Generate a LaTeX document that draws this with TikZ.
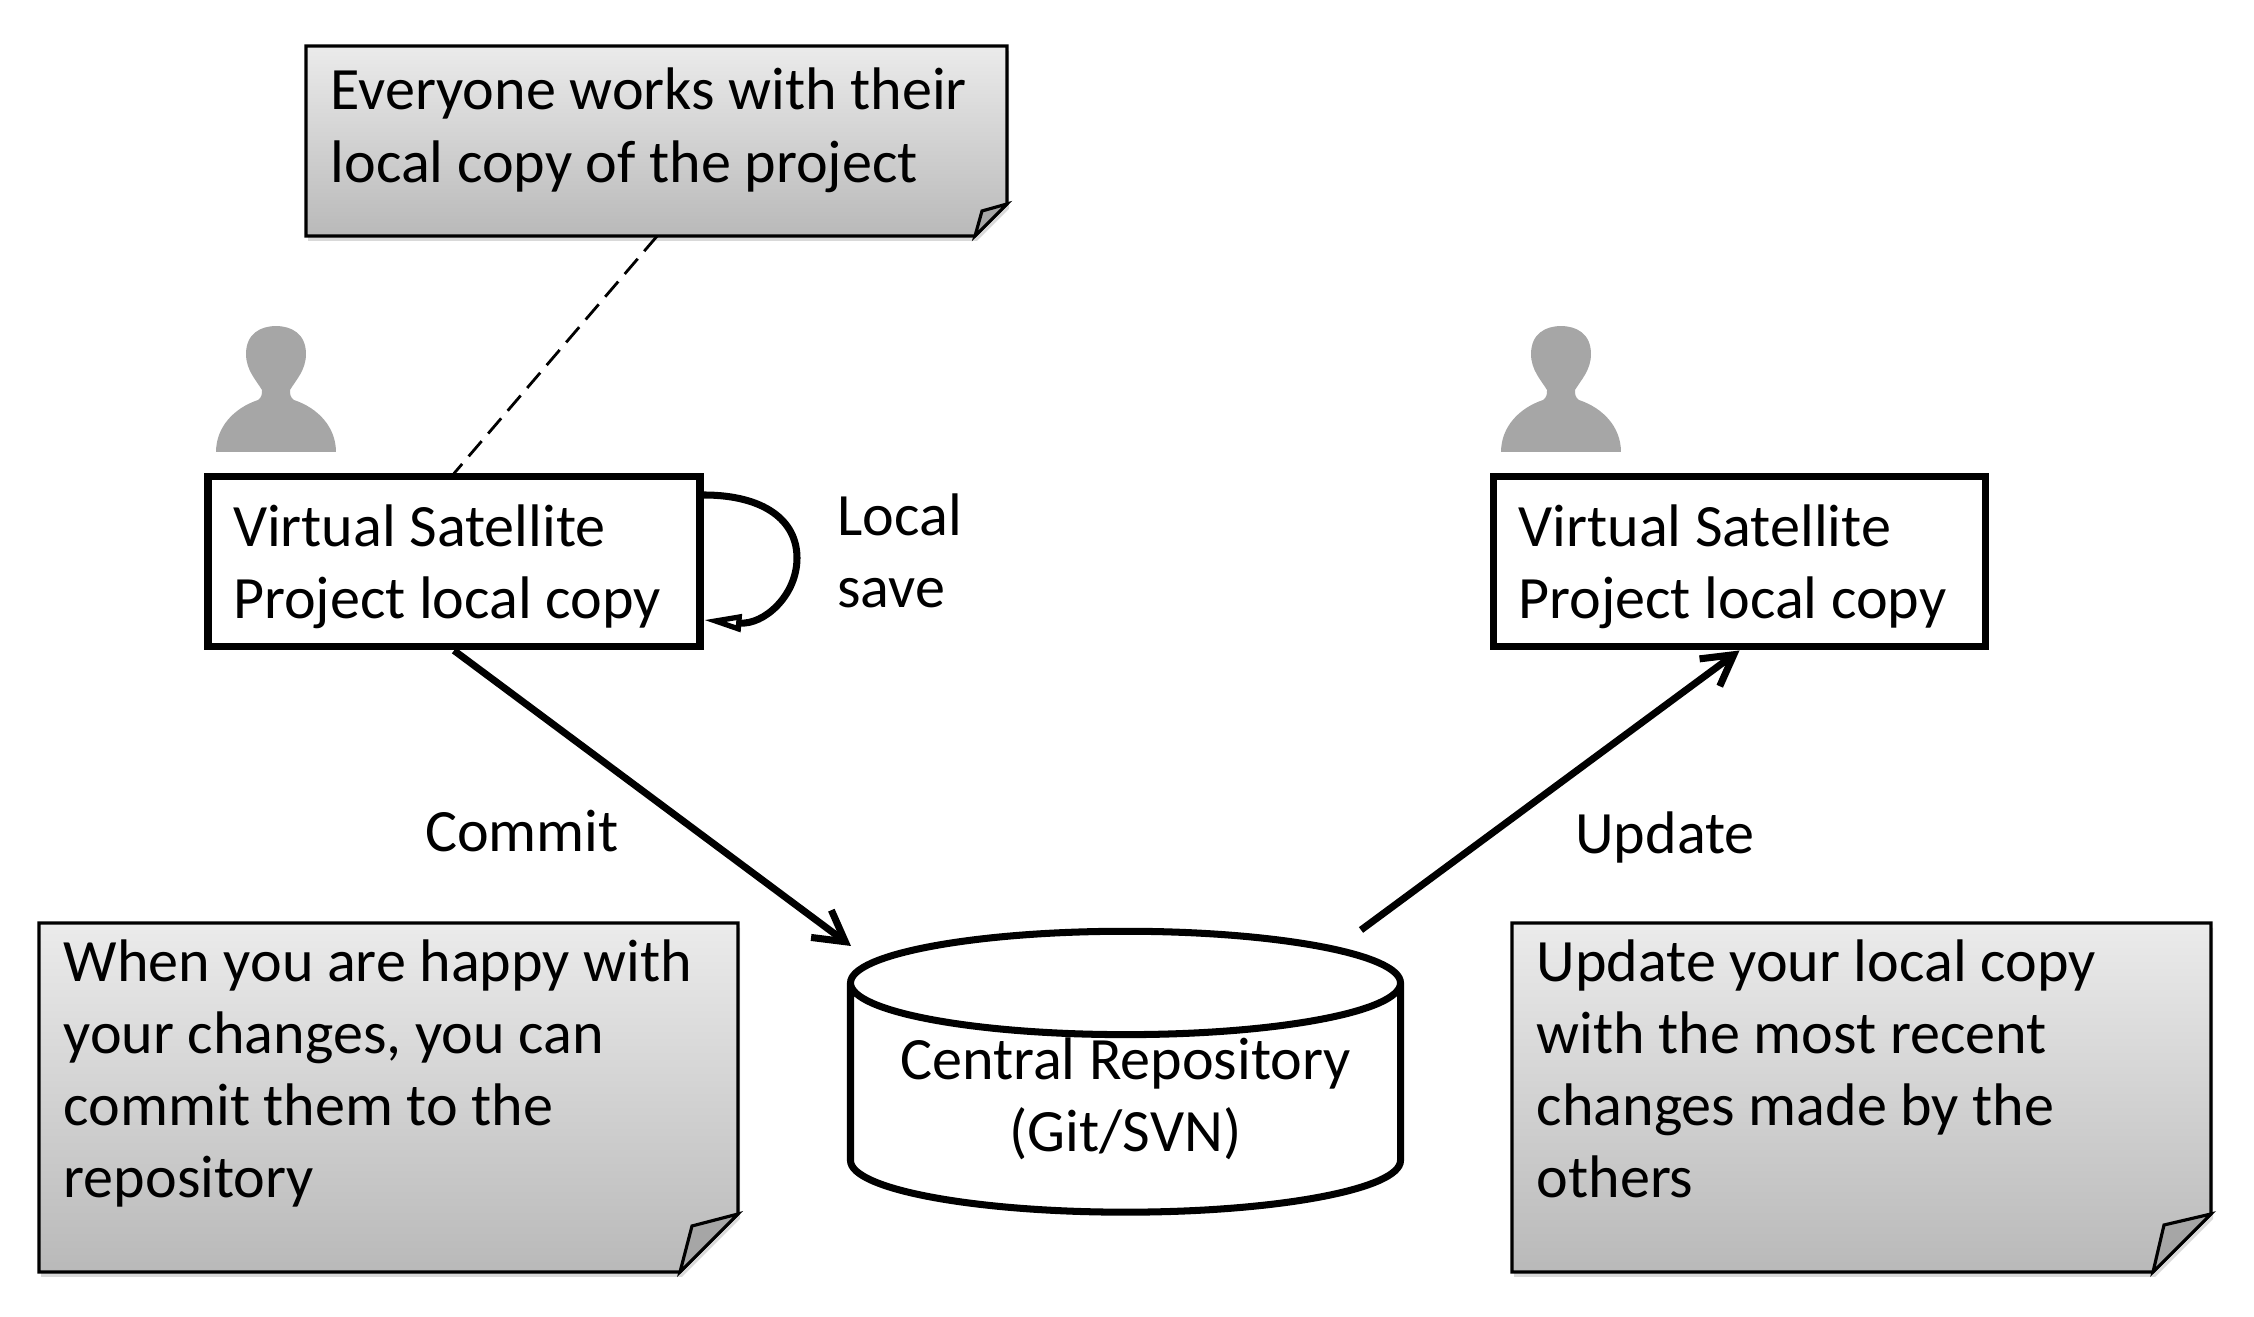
\documentclass[tikz,border=0pt]{standalone}
\usepackage{fontspec}
\setmainfont{Carlito}
\usetikzlibrary{arrows.meta,shapes.geometric,shadows}
\definecolor{notetop}{RGB}{235,235,235}
\definecolor{notebottom}{RGB}{185,185,185}
\definecolor{personfill}{RGB}{166,166,166}
\tikzset{
  bigtext/.style={font=\fontsize{17.1}{20.5}\selectfont},
  copybox/.style={draw, line width=2pt, bigtext, minimum width=4.92cm, minimum height=1.7cm, text width=4.42cm, text height=.51cm, inner xsep=.25cm, inner ysep=0pt, align=flush left},
  repobox/.style={draw, line width=2pt, bigtext, cylinder, shape border rotate=90, aspect=.218, minimum width=5.5cm, minimum height=2.3cm, text depth=.235cm, inner ysep=0pt, align=center},
  flowarrow/.style={line width=2pt, -{Straight Barb[length=.3cm,width=.34cm,line width=2pt]}},
  notetext/.style={bigtext, anchor=north west, inner sep=0pt, align=left},
  noteframe/.style={anchor=south west, inner sep=0pt},
  flowlabel/.style={bigtext, align=left}
}
% sticky note: name, left, bottom, right, top, fold, fold inset, text drop, text
\newcommand{\stickynote}[9]{
  \path[draw=black, line width=.9pt, top color=notetop, bottom color=notebottom, drop shadow={shadow xshift=.02cm, shadow yshift=-.05cm, opacity=.3}]
    (#2,#5) -- (#4,#5) -- (#4,{#3+#6}) -- ({#4-#6},#3) -- (#2,#3) -- cycle;
  \draw[line width=.9pt, fill=personfill] ({#4-#6},#3) -- ({#4-#6+#7},{#3+#6-#7}) -- (#4,{#3+#6}) -- cycle;
  \node (#1) [noteframe, minimum width={(#4-#2)*1cm}, minimum height={(#5-#3)*1cm}] at (#2,#3) {};
  \node (#1text) [notetext] at ([shift={(.24,-#8)}]#1.north west) {#9};
}
% person icon: centre x, bottom y
\newcommand{\personicon}[2]{
  \begin{scope}[shift={(#1,#2)}, x=.01cm, y=.01cm]
  \fill[personfill] (-60,0) .. controls (-60,25) and (-42,44) .. (-18,52) .. controls (-14,55) and (-14,58) .. (-14,62)
    .. controls (-20,72) and (-30,82) .. (-30,98) .. controls (-30,118) and (-16,126) .. (0,126)
    .. controls (16,126) and (30,118) .. (30,98) .. controls (30,82) and (20,72) .. (14,62)
    .. controls (14,58) and (14,55) .. (18,52) .. controls (42,44) and (60,25) .. (60,0) -- cycle;
  \end{scope}
}
\begin{document}
\begin{tikzpicture}
\useasboundingbox (0,0) rectangle (22.54,13.17);

% Notes
\stickynote{sharednote}{3.06}{10.81}{10.07}{12.71}{.32}{.07}{.23}{Everyone works with their\\local copy of the project}
\stickynote{commitnote}{.39}{.45}{7.38}{3.94}{.58}{.12}{.17}{When you are happy with\\your changes, you can\\commit them to the\\repository}
\stickynote{updatenote}{15.12}{.45}{22.11}{3.94}{.58}{.11}{.17}{Update your local copy\\with the most recent\\changes made by the\\others}

% Users
\personicon{2.76}{8.65}
\personicon{15.61}{8.65}

% Local copies
\node (leftcopy) [copybox] at (4.54,7.55) {Virtual Satellite\\Project local copy};
\node (rightcopy) [copybox] at (17.395,7.55) {Virtual Satellite\\Project local copy};

% Central repository
\node (repo) [repobox] at (11.255,2.102) {Central Repository\\(Git/SVN)};
\coordinate (commitend) at (8.51,3.71);
\coordinate (updatestart) at (13.61,3.87);

% Connectors
\coordinate (loopstart) at ([yshift=.67cm]leftcopy.east);
\coordinate (loopmid) at (7.97,7.59);
\coordinate (loopend) at ([yshift=-.58cm]leftcopy.east);
\draw[dashed, dash pattern=on .2cm off .1cm, line width=.8pt] (sharednote.south) -- (leftcopy.north);
\draw[flowarrow] (leftcopy.south) -- (commitend);
\draw[flowarrow] (updatestart) -- (rightcopy.south);
\draw[line width=2pt, -{Triangle[open,length=.38cm,width=.17cm,line width=1.5pt]}]
  (loopstart) .. controls +(.6,0) and +(0,.38) .. (loopmid)
  .. controls +(0,-.38) and +(.6,-.05) .. (loopend);

% Labels
\node (localsave) [flowlabel, anchor=west] at (8.25,7.66) {Local\\save};
\node (commitlabel) [flowlabel] at (5.22,4.86) {Commit};
\node (updatelabel) [flowlabel] at (16.65,4.8) {Update};
\end{tikzpicture}
\end{document}
